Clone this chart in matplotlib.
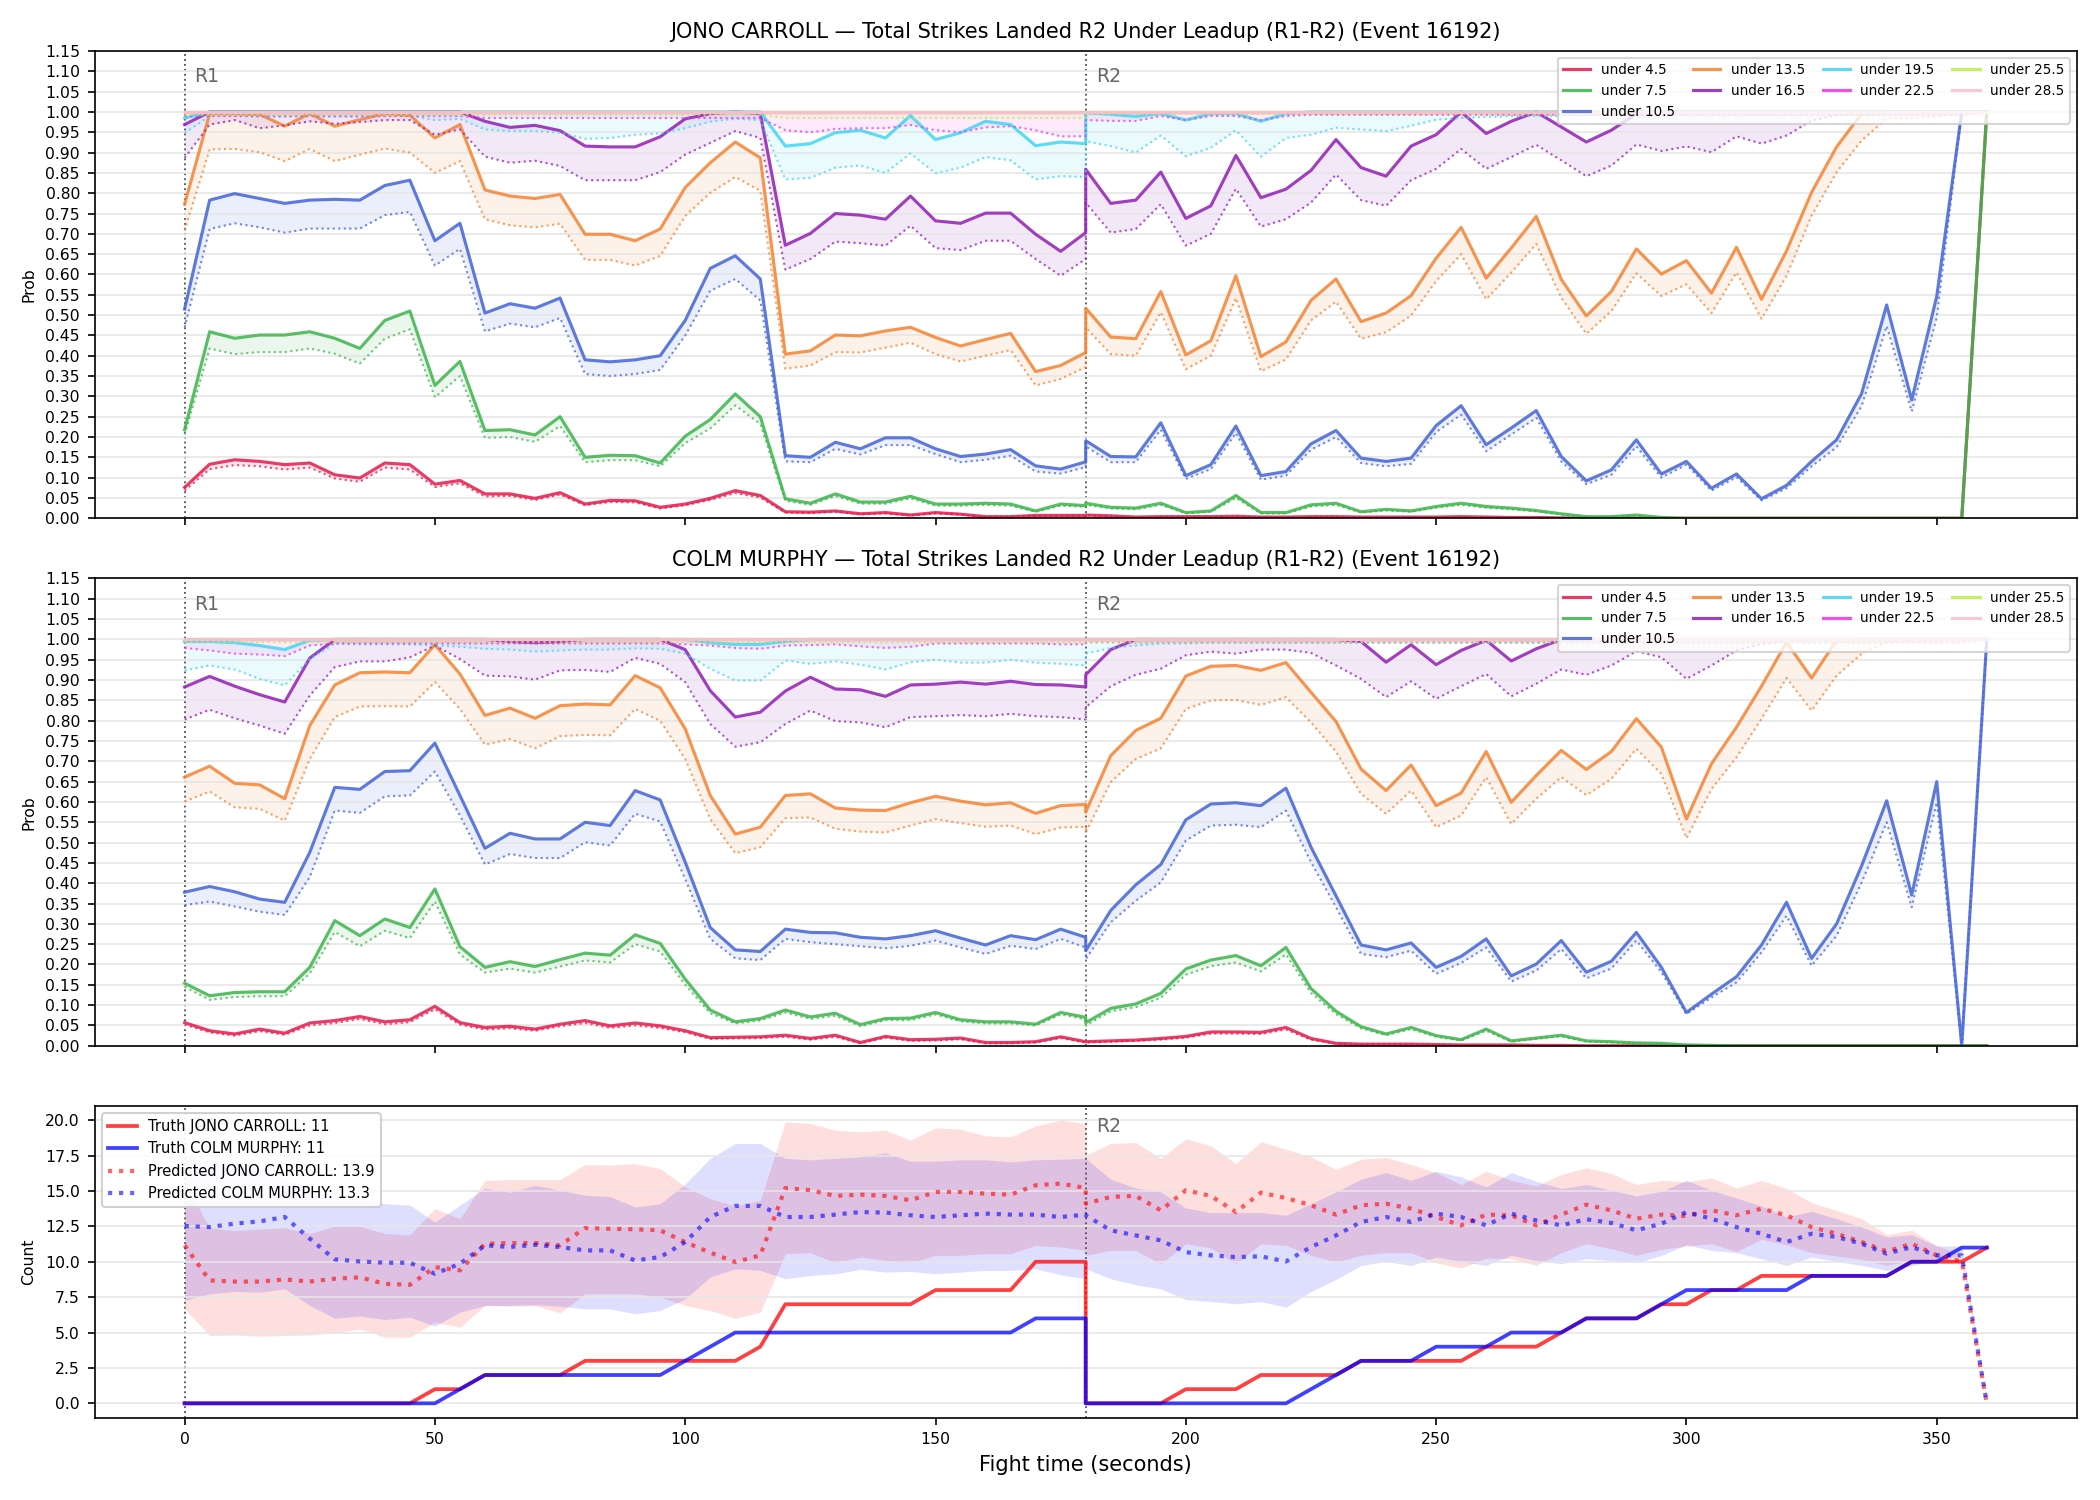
#!/usr/bin/env python3
"""
Strikes-landed under/over leadup chart: two per-fighter probability panels
plus a count panel with truth vs predicted totals.
"""
import matplotlib
matplotlib.use("Agg")
import matplotlib.pyplot as plt
import matplotlib.transforms as mtransforms
import numpy as np

# time grid: R1 0..180 then R2 180..360 (180 appears twice)
t = list(range(0, 185, 5)) + list(range(180, 365, 5))

thresholds = ["under 4.5", "under 7.5", "under 10.5", "under 13.5", "under 16.5",
              "under 19.5", "under 22.5", "under 25.5", "under 28.5"]
colors = ["#e6194b", "#3cb44b", "#4363d8", "#f58231", "#911eb4",
          "#42d4f4", "#f032e6", "#bfef45", "#fabed4"]

# ---------------- JONO CARROLL (solid = prob, _lo = dotted lower line) ----------------
jc_u45 = [0.076, 0.133, 0.144, 0.140, 0.132, 0.136, 0.107, 0.099, 0.136, 0.132,
          0.084, 0.093, 0.060, 0.060, 0.049, 0.063, 0.035, 0.044, 0.043, 0.027,
          0.035, 0.049, 0.068, 0.056, 0.016, 0.015, 0.018, 0.011, 0.014, 0.008,
          0.014, 0.010, 0.004, 0.004, 0.007, 0.007, 0.007,
          0.008, 0.006, 0.003, 0.004, 0.004, 0.004, 0.005, 0.003, 0.003, 0.004,
          0.004, 0.003, 0.003, 0.003, 0.003, 0.004, 0.003, 0.002, 0.002, 0.001,
          0.0, 0.0, 0.0, 0.0, 0.0, 0.0, 0.0, 0.0, 0.0, 0.0,
          0.0, 0.0, 0.0, 0.0, 0.0, 0.0, 1.0]
jc_u45_lo = [0.068, 0.121, 0.131, 0.128, 0.120, 0.125, 0.098, 0.090, 0.125, 0.120,
             0.077, 0.086, 0.054, 0.055, 0.045, 0.058, 0.032, 0.040, 0.039, 0.024,
             0.032, 0.045, 0.062, 0.051, 0.014, 0.013, 0.016, 0.010, 0.012, 0.007,
             0.012, 0.009, 0.003, 0.003, 0.006, 0.006, 0.006,
             0.007, 0.005, 0.002, 0.003, 0.003, 0.003, 0.004, 0.002, 0.002, 0.003,
             0.003, 0.002, 0.002, 0.002, 0.002, 0.003, 0.002, 0.001, 0.001, 0.001,
             0.0, 0.0, 0.0, 0.0, 0.0, 0.0, 0.0, 0.0, 0.0, 0.0,
             0.0, 0.0, 0.0, 0.0, 0.0, 0.0, 1.0]
jc_u75 = [0.218, 0.459, 0.443, 0.451, 0.451, 0.459, 0.443, 0.418, 0.487, 0.510,
          0.327, 0.386, 0.216, 0.218, 0.205, 0.250, 0.150, 0.155, 0.154, 0.136,
          0.202, 0.243, 0.306, 0.250, 0.048, 0.037, 0.060, 0.040, 0.040, 0.054,
          0.035, 0.035, 0.037, 0.035, 0.018, 0.035, 0.031,
          0.037, 0.027, 0.025, 0.037, 0.014, 0.018, 0.056, 0.014, 0.014, 0.033,
          0.037, 0.016, 0.022, 0.018, 0.029, 0.037, 0.029, 0.025, 0.019, 0.011,
          0.004, 0.004, 0.008, 0.002, 0.0, 0.0, 0.0, 0.0, 0.0, 0.0,
          0.0, 0.0, 0.0, 0.0, 0.0, 0.0, 1.0]
jc_u75_lo = [0.206, 0.418, 0.404, 0.409, 0.409, 0.418, 0.405, 0.381, 0.442, 0.465,
             0.298, 0.350, 0.198, 0.200, 0.188, 0.227, 0.138, 0.143, 0.143, 0.128,
             0.185, 0.221, 0.278, 0.232, 0.043, 0.033, 0.055, 0.036, 0.036, 0.049,
             0.031, 0.031, 0.033, 0.031, 0.016, 0.031, 0.028,
             0.033, 0.024, 0.022, 0.033, 0.012, 0.016, 0.050, 0.012, 0.012, 0.029,
             0.033, 0.014, 0.019, 0.016, 0.026, 0.033, 0.026, 0.022, 0.017, 0.009,
             0.003, 0.003, 0.006, 0.001, 0.0, 0.0, 0.0, 0.0, 0.0, 0.0,
             0.0, 0.0, 0.0, 0.0, 0.0, 0.0, 1.0]
jc_u105 = [0.515, 0.783, 0.799, 0.787, 0.775, 0.783, 0.785, 0.783, 0.819, 0.832,
           0.683, 0.726, 0.505, 0.528, 0.517, 0.542, 0.390, 0.385, 0.390, 0.400,
           0.487, 0.615, 0.646, 0.589, 0.154, 0.150, 0.187, 0.171, 0.198, 0.198,
           0.171, 0.152, 0.158, 0.169, 0.129, 0.121, 0.139,
           0.191, 0.152, 0.151, 0.235, 0.105, 0.132, 0.227, 0.105, 0.115, 0.183,
           0.216, 0.148, 0.140, 0.148, 0.228, 0.277, 0.181, 0.222, 0.265, 0.152,
           0.092, 0.119, 0.193, 0.109, 0.140, 0.074, 0.109, 0.048, 0.081, 0.140,
           0.193, 0.307, 0.525, 0.291, 0.546, 1.0, 1.0]
jc_u105_lo = [0.470, 0.712, 0.726, 0.716, 0.703, 0.713, 0.713, 0.713, 0.746, 0.754,
              0.622, 0.663, 0.460, 0.479, 0.470, 0.493, 0.355, 0.350, 0.355, 0.365,
              0.450, 0.560, 0.589, 0.536, 0.140, 0.138, 0.171, 0.157, 0.180, 0.180,
              0.158, 0.138, 0.144, 0.154, 0.115, 0.110, 0.126,
              0.177, 0.138, 0.138, 0.218, 0.097, 0.121, 0.210, 0.095, 0.105, 0.169,
              0.200, 0.136, 0.128, 0.134, 0.212, 0.255, 0.165, 0.206, 0.247, 0.140,
              0.084, 0.107, 0.177, 0.100, 0.132, 0.068, 0.101, 0.044, 0.074, 0.128,
              0.175, 0.276, 0.473, 0.263, 0.494, 1.0, 1.0]
jc_u135 = [0.773, 0.996, 0.996, 0.994, 0.965, 0.996, 0.965, 0.981, 0.996, 0.992,
           0.936, 0.969, 0.808, 0.793, 0.787, 0.797, 0.699, 0.699, 0.683, 0.712,
           0.814, 0.875, 0.926, 0.887, 0.404, 0.412, 0.451, 0.449, 0.461, 0.470,
           0.445, 0.424, 0.440, 0.455, 0.361, 0.376, 0.408,
           0.517, 0.446, 0.442, 0.558, 0.402, 0.437, 0.597, 0.398, 0.434, 0.536,
           0.589, 0.484, 0.505, 0.548, 0.640, 0.716, 0.591, 0.665, 0.743, 0.588,
           0.498, 0.558, 0.663, 0.601, 0.634, 0.554, 0.667, 0.539, 0.658, 0.802,
           0.914, 0.996, 1.0, 1.0, 1.0, 1.0, 1.0]
jc_u135_lo = [0.708, 0.908, 0.909, 0.901, 0.879, 0.909, 0.879, 0.895, 0.910, 0.900,
              0.850, 0.879, 0.736, 0.721, 0.716, 0.725, 0.636, 0.636, 0.622, 0.646,
              0.744, 0.801, 0.840, 0.806, 0.368, 0.376, 0.409, 0.408, 0.420, 0.432,
              0.404, 0.386, 0.400, 0.414, 0.327, 0.343, 0.372,
              0.470, 0.404, 0.400, 0.507, 0.367, 0.400, 0.542, 0.362, 0.391, 0.487,
              0.533, 0.442, 0.458, 0.499, 0.584, 0.650, 0.539, 0.605, 0.675, 0.543,
              0.454, 0.510, 0.603, 0.547, 0.576, 0.505, 0.605, 0.491, 0.597, 0.745,
              0.852, 0.930, 0.984, 0.985, 0.988, 1.0, 1.0]
jc_u165 = [0.969, 1.0, 1.0, 1.0, 1.0, 1.0, 1.0, 1.0, 1.0, 1.0,
           1.0, 1.0, 0.977, 0.962, 0.967, 0.954, 0.916, 0.914, 0.914, 0.939,
           0.983, 0.996, 1.0, 0.996, 0.672, 0.701, 0.750, 0.746, 0.736, 0.793,
           0.732, 0.726, 0.751, 0.751, 0.699, 0.657, 0.703,
           0.859, 0.775, 0.783, 0.852, 0.738, 0.769, 0.893, 0.789, 0.810, 0.856,
           0.932, 0.863, 0.842, 0.916, 0.944, 1.0, 0.947, 0.977, 1.0, 0.963,
           0.926, 0.955, 0.996, 1.0, 1.0, 1.0, 1.0, 1.0, 1.0, 1.0,
           1.0, 1.0, 1.0, 1.0, 1.0, 1.0, 1.0]
jc_u165_lo = [0.887, 0.969, 0.980, 0.960, 0.967, 0.977, 0.971, 0.975, 0.980, 0.980,
              0.944, 0.957, 0.890, 0.875, 0.880, 0.867, 0.832, 0.832, 0.832, 0.852,
              0.895, 0.924, 0.953, 0.936, 0.612, 0.638, 0.681, 0.677, 0.671, 0.720,
              0.665, 0.660, 0.683, 0.683, 0.638, 0.597, 0.638,
              0.777, 0.703, 0.712, 0.773, 0.671, 0.700, 0.811, 0.718, 0.736, 0.777,
              0.846, 0.783, 0.769, 0.832, 0.860, 0.909, 0.860, 0.889, 0.919, 0.881,
              0.842, 0.868, 0.920, 0.904, 0.915, 0.901, 0.940, 0.922, 0.942, 0.979,
              0.992, 0.996, 0.998, 0.998, 0.998, 1.0, 1.0]
jc_u195 = [0.985] + [1.0] * 23 + [0.916, 0.922, 0.949, 0.955, 0.936, 0.991, 0.932,
                                  0.949, 0.977, 0.969, 0.917, 0.926, 0.922] + \
          [0.998, 0.994, 0.989, 0.996, 0.980, 0.996, 0.996, 0.977, 0.996] + [1.0] * 28
jc_u195_lo = [0.948, 0.990, 0.990, 0.988, 0.988, 0.990, 0.988, 0.988, 0.990, 0.990,
              0.980, 0.983, 0.957, 0.953, 0.953, 0.949, 0.934, 0.936, 0.944, 0.947,
              0.960, 0.976, 0.983, 0.980, 0.834, 0.838, 0.863, 0.868, 0.850, 0.898,
              0.849, 0.863, 0.889, 0.881, 0.834, 0.842, 0.840,
              0.928, 0.916, 0.900, 0.942, 0.891, 0.912, 0.955, 0.890, 0.936, 0.944,
              0.961, 0.957, 0.953, 0.966, 0.981, 0.985, 0.988, 0.990, 0.990, 0.990] + \
             [0.992] * 16 + [1.0]
jc_u225 = [1.0] * 74
jc_u225_lo = [0.990] * 12 + [0.985] * 12 + [0.955, 0.950, 0.958, 0.960, 0.960, 0.968, 0.955,
                                             0.950, 0.962, 0.965, 0.955, 0.940, 0.940] + \
             [0.980, 0.978, 0.978, 0.990, 0.980, 0.990, 0.990, 0.980, 0.990] + [0.993] * 27 + [1.0]
jc_u255 = [1.0] * 74
jc_u255_lo = [0.993] * 24 + [0.985] * 13 + [0.995] * 36 + [1.0]
jc_u285 = [1.0] * 74
jc_u285_lo = [0.997] * 73 + [1.0]

# ---------------- COLM MURPHY ----------------
cm_u45 = [0.057, 0.037, 0.029, 0.041, 0.031, 0.056, 0.062, 0.072, 0.059, 0.064,
          0.097, 0.057, 0.045, 0.048, 0.041, 0.053, 0.062, 0.049, 0.056, 0.049,
          0.037, 0.020, 0.021, 0.022, 0.026, 0.018, 0.026, 0.008, 0.023, 0.015,
          0.016, 0.019, 0.008, 0.008, 0.010, 0.022, 0.010,
          0.010, 0.012, 0.014, 0.018, 0.023, 0.034, 0.034, 0.033, 0.045, 0.018,
          0.006, 0.004, 0.004, 0.004, 0.003, 0.002, 0.002, 0.002, 0.001, 0.001] + [0.0] * 17
cm_u45_lo = [0.052, 0.033, 0.025, 0.036, 0.027, 0.050, 0.056, 0.066, 0.053, 0.058,
             0.090, 0.052, 0.040, 0.043, 0.037, 0.048, 0.056, 0.044, 0.050, 0.044,
             0.033, 0.017, 0.018, 0.019, 0.022, 0.015, 0.022, 0.006, 0.020, 0.012,
             0.013, 0.016, 0.006, 0.006, 0.008, 0.019, 0.008,
             0.008, 0.010, 0.012, 0.015, 0.020, 0.030, 0.030, 0.029, 0.040, 0.015,
             0.005, 0.003, 0.003, 0.003, 0.002, 0.001, 0.001, 0.001, 0.0, 0.0] + [0.0] * 17
cm_u75 = [0.154, 0.123, 0.131, 0.133, 0.133, 0.193, 0.308, 0.271, 0.312, 0.291,
          0.386, 0.244, 0.193, 0.207, 0.195, 0.212, 0.228, 0.223, 0.273, 0.252,
          0.164, 0.088, 0.059, 0.067, 0.088, 0.071, 0.080, 0.052, 0.067, 0.068,
          0.082, 0.064, 0.059, 0.059, 0.053, 0.082, 0.070,
          0.057, 0.092, 0.103, 0.129, 0.189, 0.211, 0.222, 0.197, 0.242, 0.141,
          0.085, 0.047, 0.029, 0.045, 0.025, 0.015, 0.041, 0.012, 0.019, 0.026,
          0.012, 0.010, 0.007, 0.006, 0.002, 0.001] + [0.0] * 11
cm_u75_lo = [0.145, 0.113, 0.120, 0.122, 0.122, 0.178, 0.280, 0.245, 0.283, 0.265,
             0.355, 0.225, 0.180, 0.190, 0.180, 0.195, 0.210, 0.205, 0.250, 0.232,
             0.150, 0.080, 0.055, 0.062, 0.082, 0.066, 0.074, 0.048, 0.063, 0.063,
             0.077, 0.060, 0.055, 0.055, 0.050, 0.077, 0.065,
             0.050, 0.085, 0.095, 0.118, 0.175, 0.196, 0.205, 0.183, 0.225, 0.130,
             0.078, 0.043, 0.026, 0.041, 0.022, 0.013, 0.037, 0.010, 0.017, 0.023,
             0.010, 0.008, 0.006, 0.005, 0.001, 0.0] + [0.0] * 11
cm_u105 = [0.378, 0.392, 0.379, 0.361, 0.353, 0.476, 0.636, 0.631, 0.675, 0.677,
           0.745, 0.616, 0.486, 0.523, 0.509, 0.509, 0.550, 0.542, 0.628, 0.605,
           0.452, 0.291, 0.236, 0.232, 0.287, 0.279, 0.278, 0.267, 0.263, 0.271,
           0.283, 0.265, 0.248, 0.271, 0.261, 0.287, 0.267,
           0.234, 0.333, 0.396, 0.446, 0.556, 0.595, 0.598, 0.591, 0.634, 0.489,
           0.369, 0.248, 0.236, 0.253, 0.193, 0.220, 0.263, 0.172, 0.201, 0.259,
           0.181, 0.208, 0.279, 0.193, 0.082, 0.127, 0.170, 0.248, 0.353, 0.215,
           0.300, 0.443, 0.603, 0.371, 0.650, 0.0, 1.0]
cm_u105_lo = [0.346, 0.355, 0.343, 0.330, 0.322, 0.415, 0.579, 0.573, 0.614, 0.616,
              0.675, 0.567, 0.446, 0.472, 0.462, 0.462, 0.501, 0.493, 0.571, 0.552,
              0.410, 0.263, 0.215, 0.211, 0.263, 0.255, 0.250, 0.245, 0.240, 0.246,
              0.259, 0.242, 0.226, 0.246, 0.238, 0.263, 0.242,
              0.213, 0.304, 0.357, 0.402, 0.505, 0.542, 0.544, 0.538, 0.579, 0.452,
              0.341, 0.226, 0.218, 0.234, 0.177, 0.204, 0.242, 0.158, 0.185, 0.238,
              0.166, 0.190, 0.259, 0.181, 0.078, 0.119, 0.156, 0.230, 0.320, 0.197,
              0.271, 0.402, 0.550, 0.341, 0.599, 0.0, 1.0]
cm_u135 = [0.661, 0.688, 0.646, 0.642, 0.608, 0.788, 0.888, 0.918, 0.920, 0.918,
           0.987, 0.915, 0.813, 0.831, 0.806, 0.837, 0.841, 0.839, 0.911, 0.881,
           0.780, 0.616, 0.521, 0.538, 0.616, 0.620, 0.585, 0.580, 0.579, 0.598,
           0.614, 0.602, 0.593, 0.598, 0.572, 0.591, 0.594,
           0.575, 0.714, 0.776, 0.806, 0.910, 0.934, 0.936, 0.924, 0.943, 0.870,
           0.798, 0.681, 0.628, 0.691, 0.591, 0.622, 0.724, 0.599, 0.665, 0.727,
           0.680, 0.724, 0.805, 0.735, 0.558, 0.694, 0.784, 0.885, 0.993, 0.905,
           0.998, 1.0, 1.0, 1.0, 1.0, 1.0, 1.0]
cm_u135_lo = [0.601, 0.626, 0.587, 0.583, 0.554, 0.706, 0.809, 0.835, 0.836, 0.835,
              0.895, 0.829, 0.741, 0.755, 0.732, 0.762, 0.765, 0.764, 0.829, 0.800,
              0.706, 0.558, 0.474, 0.489, 0.560, 0.562, 0.534, 0.527, 0.525, 0.542,
              0.558, 0.548, 0.539, 0.542, 0.521, 0.537, 0.539,
              0.525, 0.649, 0.706, 0.732, 0.829, 0.850, 0.851, 0.839, 0.858, 0.796,
              0.724, 0.620, 0.571, 0.628, 0.538, 0.567, 0.661, 0.546, 0.608, 0.661,
              0.617, 0.657, 0.731, 0.669, 0.511, 0.632, 0.710, 0.805, 0.905, 0.825,
              0.911, 0.965, 0.993, 0.995, 0.997, 1.0, 1.0]
cm_u165 = [0.883, 0.909, 0.885, 0.864, 0.846, 0.954, 1.0, 1.0, 1.0, 1.0,
           1.0, 1.0, 1.0, 0.995, 0.992, 0.995, 1.0, 1.0, 1.0, 1.0,
           0.975, 0.874, 0.809, 0.821, 0.873, 0.907, 0.878, 0.876, 0.860, 0.888,
           0.890, 0.895, 0.890, 0.897, 0.889, 0.888, 0.883,
           0.913, 0.975, 1.0, 1.0, 1.0, 1.0, 1.0, 1.0, 1.0, 1.0,
           1.0, 0.995, 0.944, 0.987, 0.938, 0.973, 0.998, 0.947, 0.977, 1.0] + [1.0] * 17
cm_u165_lo = [0.803, 0.827, 0.806, 0.788, 0.768, 0.862, 0.932, 0.946, 0.946, 0.956,
              0.985, 0.952, 0.911, 0.909, 0.901, 0.924, 0.925, 0.920, 0.955, 0.940,
              0.895, 0.792, 0.736, 0.747, 0.792, 0.825, 0.799, 0.796, 0.784, 0.809,
              0.811, 0.814, 0.811, 0.817, 0.811, 0.809, 0.803,
              0.833, 0.885, 0.913, 0.928, 0.961, 0.970, 0.965, 0.975, 0.975, 0.967,
              0.936, 0.903, 0.858, 0.897, 0.854, 0.885, 0.915, 0.860, 0.891, 0.926,
              0.913, 0.936, 0.971, 0.956, 0.903, 0.936, 0.973, 0.989, 0.995, 0.997,
              0.998, 0.998, 0.998, 0.998, 0.998, 1.0, 1.0]
cm_u195 = [0.995, 0.995, 0.992, 0.985, 0.975, 0.998] + [1.0] * 15 + \
          [0.992, 0.988, 0.988, 0.995] + [1.0] * 12 + [1.0] * 37
cm_u195_lo = [0.924, 0.936, 0.926, 0.903, 0.887, 0.952, 0.990, 0.988, 0.988, 0.988,
              0.985, 0.982, 0.977, 0.975, 0.970, 0.973, 0.975, 0.975, 0.978, 0.977,
              0.965, 0.928, 0.899, 0.899, 0.948, 0.940, 0.946, 0.938, 0.926, 0.944,
              0.950, 0.943, 0.943, 0.950, 0.943, 0.940, 0.936,
              0.965, 0.979, 0.985, 0.990, 0.990] + [0.992] * 31 + [1.0]
cm_u225 = [1.0] * 74
cm_u225_lo = [0.979, 0.973, 0.965, 0.963, 0.959, 0.985] + [0.990] * 14 + \
             [0.988, 0.985, 0.979, 0.977, 0.985, 0.986, 0.988, 0.983, 0.979, 0.982,
              0.990, 0.990, 0.990, 0.990, 0.990, 0.988, 0.988] + [0.993] * 36 + [1.0]
cm_u255 = [1.0] * 74
cm_u255_lo = [0.993] * 73 + [1.0]
cm_u285 = [1.0] * 74
cm_u285_lo = [0.997] * 73 + [1.0]

# ---------------- counts ----------------
truth_jc = [0, 0, 0, 0, 0, 0, 0, 0, 0, 0, 1, 1, 2, 2, 2, 2, 3, 3, 3, 3,
            3, 3, 3, 4, 7, 7, 7, 7, 7, 7, 8, 8, 8, 8, 10, 10, 10,
            0, 0, 0, 0, 1, 1, 1, 2, 2, 2, 2, 3, 3, 3, 3, 3, 4, 4, 4, 5,
            6, 6, 6, 7, 7, 8, 8, 9, 9, 9, 9, 9, 9, 10, 10, 10, 11]
truth_cm = [0, 0, 0, 0, 0, 0, 0, 0, 0, 0, 0, 1, 2, 2, 2, 2, 2, 2, 2, 2,
            3, 4, 5, 5, 5, 5, 5, 5, 5, 5, 5, 5, 5, 5, 6, 6, 6,
            0, 0, 0, 0, 0, 0, 0, 0, 0, 1, 2, 3, 3, 3, 4, 4, 4, 5, 5, 5,
            6, 6, 6, 7, 8, 8, 8, 8, 8, 9, 9, 9, 9, 10, 10, 11, 11]
pred_jc = [11.16, 8.68, 8.60, 8.60, 8.75, 8.60, 8.80, 8.90, 8.44, 8.37,
           9.62, 9.39, 11.27, 11.32, 11.32, 11.16, 12.38, 12.33, 12.29, 12.22,
           11.39, 10.64, 9.98, 10.45, 15.21, 15.05, 14.65, 14.74, 14.65, 14.34,
           14.93, 14.93, 14.81, 14.74, 15.40, 15.52, 15.21,
           14.10, 14.58, 14.65, 13.63, 15.05, 14.65, 13.51, 14.88, 14.50, 13.99,
           13.33, 13.99, 14.10, 13.75, 13.16, 12.57, 13.33, 13.28, 12.57, 13.33,
           14.03, 13.63, 13.04, 13.33, 13.23, 13.63, 13.28, 13.75, 13.28, 12.45,
           11.98, 11.39, 10.73, 11.27, 10.45, 10.02, 0.0]
pred_cm = [12.52, 12.45, 12.69, 12.85, 13.16, 11.63, 10.17, 10.02, 9.93, 9.93,
           9.15, 9.86, 11.16, 11.04, 11.20, 11.04, 10.80, 10.80, 10.09, 10.33,
           11.39, 13.16, 13.94, 13.94, 13.16, 13.16, 13.33, 13.51, 13.47, 13.28,
           13.16, 13.28, 13.40, 13.33, 13.33, 13.16, 13.33,
           13.28, 12.22, 11.86, 11.51, 10.68, 10.45, 10.33, 10.38, 10.02, 11.04,
           11.86, 12.81, 13.16, 12.81, 13.40, 13.16, 12.57, 13.40, 12.92, 12.57,
           13.00, 12.74, 12.22, 12.69, 13.51, 13.04, 12.45, 11.98, 11.39, 11.98,
           11.75, 11.27, 10.57, 11.04, 10.45, 10.45, 0.0]
band_jc_hi = [15.6, 12.4, 12.2, 12.3, 12.4, 12.0, 12.5, 12.5, 12.0, 11.9,
              13.75, 13.04, 15.75, 15.80, 15.80, 15.80, 16.86, 16.82, 16.93, 16.58,
              15.28, 14.46, 13.94, 14.34, 19.88, 19.76, 19.29, 19.17, 19.29, 18.58,
              19.46, 19.36, 18.89, 18.82, 19.60, 20.00, 19.76,
              17.52, 18.35, 18.42, 17.29, 18.70, 18.18, 16.93, 18.47, 17.95, 17.41,
              16.53, 17.24, 17.36, 16.86, 16.30, 15.45, 16.39, 15.75, 15.35, 16.16,
              16.63, 16.23, 15.45, 15.75, 15.64, 15.92, 15.21, 15.75, 15.17, 14.17,
              13.63, 13.04, 11.91, 12.22, 11.16, 10.45, 0.0]
band_jc_lo = [6.67, 4.79, 4.83, 4.74, 4.79, 4.83, 4.98, 5.26, 4.67, 4.67,
              5.73, 5.38, 6.91, 6.86, 6.91, 6.39, 7.74, 7.74, 7.74, 7.50,
              6.91, 6.56, 6.01, 6.44, 10.57, 10.64, 9.93, 10.33, 10.09, 9.93,
              10.45, 10.45, 10.57, 10.57, 11.16, 11.04, 10.80,
              10.45, 10.80, 10.80, 9.86, 11.27, 10.97, 9.86, 11.27, 11.16, 10.45,
              9.98, 10.45, 10.64, 10.64, 9.93, 9.55, 10.26, 10.21, 9.74, 10.64,
              11.27, 10.92, 10.45, 10.87, 11.11, 11.27, 10.73, 11.58, 11.20, 10.64,
              10.40, 10.17, 9.74, 10.09, 9.98, 9.93, 0.0]
band_cm_hi = [17.6, 16.9, 17.2, 16.6, 15.8, 15.2, 14.6, 14.4, 14.1, 14.0,
              12.80, 14.00, 15.20, 14.90, 15.40, 15.05, 14.70, 14.60, 13.87, 14.10,
              15.50, 17.30, 18.35, 18.35, 17.30, 17.20, 17.30, 17.40, 17.70, 17.10,
              17.10, 17.20, 17.20, 17.05, 17.20, 17.24, 17.30,
              17.30, 15.83, 15.21, 14.93, 13.80, 13.47, 13.47, 13.47, 13.28, 14.10,
              14.93, 15.83, 16.30, 15.75, 16.39, 15.99, 15.28, 16.30, 15.68, 15.17,
              15.45, 15.05, 14.65, 14.98, 15.75, 15.05, 14.50, 13.94, 13.16, 13.56,
              13.04, 12.45, 11.75, 11.91, 11.11, 11.11, 0.0]
band_cm_lo = [7.26, 7.74, 7.90, 7.85, 8.09, 6.91, 6.01, 6.16, 5.92, 6.08,
              5.45, 6.44, 6.91, 6.91, 6.96, 6.86, 6.67, 6.67, 6.32, 6.56,
              7.38, 8.92, 9.50, 9.39, 8.80, 9.03, 9.15, 9.46, 9.27, 9.32,
              9.15, 9.27, 9.39, 9.39, 9.50, 9.08, 8.80,
              9.50, 8.80, 8.37, 8.09, 7.33, 7.19, 7.03, 7.19, 6.79, 7.90,
              8.75, 9.74, 10.02, 9.74, 10.33, 10.02, 9.74, 10.45, 10.09, 9.86,
              10.21, 10.09, 9.93, 10.45, 11.20, 10.80, 10.64, 10.21, 9.74, 10.33,
              10.02, 9.74, 9.39, 9.74, 10.09, 10.45, 0.0]

event_id = 16192
round_starts = [(0, "R1"), (180, "R2")]


def add_round_marks(ax):
    trans = mtransforms.blended_transform_factory(ax.transData, ax.transAxes)
    for x, lab in round_starts:
        ax.axvline(x, color="0.35", ls=":", lw=0.9, zorder=1)
        ax.text(x + 2.0, 0.965, lab, transform=trans, va="top", ha="left",
                fontsize=9, color="0.4")


def prob_panel(ax, series, fighter):
    for name, color, (hi, lo) in zip(thresholds, colors, series):
        ax.fill_between(t, lo, hi, color=color, alpha=0.1, lw=0)
        ax.plot(t, lo, ":", color=color, lw=1.0, alpha=0.75)
        ax.plot(t, hi, "-", color=color, lw=1.5, alpha=0.85, label=name)
    ax.set_ylim(0, 1.15)
    ax.set_yticks(np.arange(0, 1.151, 0.05))
    ax.yaxis.set_major_formatter(matplotlib.ticker.FormatStrFormatter("%.2f"))
    ax.set_ylabel("Prob", fontsize=7.5)
    ax.set_title(f"{fighter} — Total Strikes Landed R2 Under Leadup (R1-R2) (Event {event_id})",
                 fontsize=10)
    ax.grid(axis="y", color="0.9", lw=0.8)
    ax.tick_params(labelsize=7.5)
    add_round_marks(ax)
    ax.legend(loc="upper right", ncol=4, fontsize=6.5, framealpha=0.8,
              handlelength=2.0, columnspacing=1.3)


def main():
    fig, axes = plt.subplots(3, 1, figsize=(14, 10), dpi=150, sharex=True,
                             gridspec_kw={"height_ratios": [3, 3, 2]})
    fig.subplots_adjust(left=0.045, right=0.989, top=0.966, bottom=0.055, hspace=0.145)

    jc = [(jc_u45, jc_u45_lo), (jc_u75, jc_u75_lo), (jc_u105, jc_u105_lo),
          (jc_u135, jc_u135_lo), (jc_u165, jc_u165_lo), (jc_u195, jc_u195_lo),
          (jc_u225, jc_u225_lo), (jc_u255, jc_u255_lo), (jc_u285, jc_u285_lo)]
    cm = [(cm_u45, cm_u45_lo), (cm_u75, cm_u75_lo), (cm_u105, cm_u105_lo),
          (cm_u135, cm_u135_lo), (cm_u165, cm_u165_lo), (cm_u195, cm_u195_lo),
          (cm_u225, cm_u225_lo), (cm_u255, cm_u255_lo), (cm_u285, cm_u285_lo)]
    prob_panel(axes[0], jc, "JONO CARROLL")
    prob_panel(axes[1], cm, "COLM MURPHY")

    # counts panel
    ax = axes[2]
    ax.fill_between(t, band_jc_lo, band_jc_hi, color="red", alpha=0.13, lw=0)
    ax.fill_between(t, band_cm_lo, band_cm_hi, color="blue", alpha=0.13, lw=0)
    ax.plot(t, truth_jc, color="red", lw=1.8, alpha=0.75,
            label=f"Truth JONO CARROLL: {truth_jc[-1]}")
    ax.plot(t, truth_cm, color="blue", lw=1.8, alpha=0.75,
            label=f"Truth COLM MURPHY: {truth_cm[-1]}")
    ax.plot(t, pred_jc, ":", color="red", lw=2.0, alpha=0.6,
            label="Predicted JONO CARROLL: 13.9")
    ax.plot(t, pred_cm, ":", color="blue", lw=2.0, alpha=0.6,
            label="Predicted COLM MURPHY: 13.3")
    ax.set_ylabel("Count", fontsize=7.5)
    ax.grid(axis="y", color="0.9", lw=0.8)
    ax.tick_params(labelsize=7.5)
    add_round_marks(ax)
    leg = ax.legend(loc="upper left", fontsize=7, framealpha=0.9)
    leg.set_zorder(5)
    ax.set_xlabel("Fight time (seconds)", fontsize=10)

    fig.savefig("out.png", dpi=150)
    plt.close(fig)


if __name__ == "__main__":
    main()
